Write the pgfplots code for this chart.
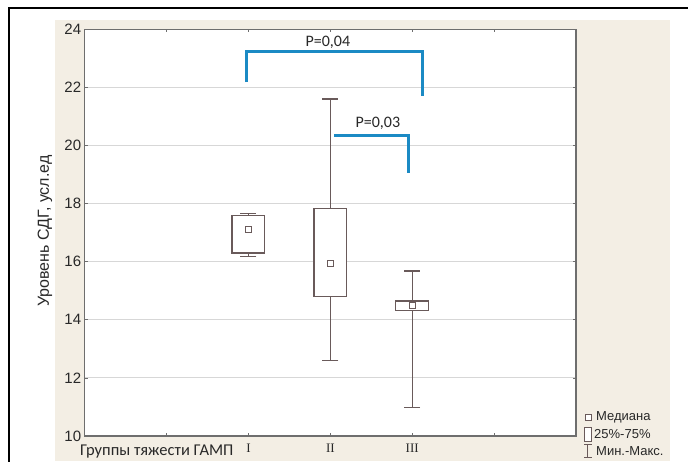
\documentclass[border=0pt]{standalone}
\usepackage{pgfplots}
\pgfplotsset{compat=1.18}
\usepackage{fontspec}
\setmainfont{Liberation Sans}
\newfontfamily\carl{Carlito}
\newfontfamily\serif{Liberation Serif}
\definecolor{bg}{RGB}{243,238,228}
\definecolor{boxc}{RGB}{105,90,90}
\definecolor{brk}{RGB}{27,138,196}
\definecolor{gridc}{RGB}{215,215,215}
\definecolor{axc}{RGB}{110,110,110}
\definecolor{txt}{RGB}{40,40,40}

\begin{document}
\begin{tikzpicture}
\useasboundingbox (0pt,0pt) rectangle (688pt,461pt);
\fill[white] (0pt,0pt) rectangle (688pt,461pt);
\fill[bg] (55pt,0pt) rectangle (670pt,441pt);
\draw[black, line width=1.5pt] (9pt,-2pt) -- (9pt,453pt) -- (690pt,453pt);
\begin{axis}[at={(84.7pt,25pt)}, anchor=south west, width=491.3pt, height=406.7pt, scale only axis,
 xmin=0, xmax=6, ymin=10, ymax=24,
 xtick={1,2,3,4,5}, xticklabels={,I,II,III,},
 ytick={10,12,...,24},
 ymajorgrids, grid style={gridc, line width=1pt},
 axis line style={axc, line width=1.2pt},
 tick style={axc, line width=0.8pt}, major tick length=3pt, tick align=inside,
 axis background/.style={fill=white},
 /pgf/number format/assume math mode=true,
 yticklabel style={font=\fontsize{15}{15}\selectfont, color=txt},
 xticklabel style={font=\serif\fontsize{13}{13}\selectfont, color=txt, yshift=-4pt},
 clip=false,
 ]
% whiskers (min..max) centred on median
\addplot[draw=none, mark=none, error bars/.cd, y dir=both, y explicit,
  error bar style={draw=boxc, line width=1.2pt},
  error mark options={draw=boxc, line width=1.2pt, rotate=90, mark size=8pt}]
  coordinates {(2,17.1) += (0,0.56) -= (0,0.91)
               (3,15.93) += (0,5.67) -= (0,3.34)
               (4,14.5) += (0,1.18) -= (0,3.51)};
% boxes (quartiles)
\addplot[boxc, fill=white, line width=1.2pt] coordinates {(1.8,16.3) (2.2,16.3) (2.2,17.6) (1.8,17.6)} -- cycle;
\addplot[boxc, fill=white, line width=1.2pt] coordinates {(2.8,14.79) (3.2,14.79) (3.2,17.82) (2.8,17.82)} -- cycle;
\addplot[boxc, fill=white, line width=1.2pt] coordinates {(3.8,14.32) (4.2,14.32) (4.2,14.65) (3.8,14.65)} -- cycle;
% medians
\addplot[only marks, mark=square*, mark options={fill=white, draw=boxc, line width=1pt}, mark size=3pt] coordinates {(2,17.1) (3,15.93) (4,14.5)};
% brackets
\addplot[brk, line width=3pt, no marks] coordinates {(1.977,22.18) (1.977,23.24) (4.125,23.24) (4.125,21.7)};
\addplot[brk, line width=3pt, no marks] coordinates {(3.05,20.33) (3.95,20.33) (3.95,19.04)};
\node[font=\carl\fontsize{16}{16}\selectfont, color=txt] at (axis cs:2.97,23.55) {P=0,04};
\node[font=\carl\fontsize{16}{16}\selectfont, color=txt] at (axis cs:3.58,20.76) {P=0,03};
\end{axis}
\node[rotate=90, font=\fontsize{16}{16}\selectfont, color=txt] at (45pt,230pt) {Уровень СДГ, усл.ед};
\node[anchor=west, font=\carl\fontsize{16.5}{16.5}\selectfont, color=txt, inner sep=0pt] at (80pt,9.5pt) {Группы тяжести ГАМП};
% legend
\draw[boxc, line width=0.8pt, fill=white] (585pt,41pt) rectangle (591pt,47pt);
\node[anchor=west, font=\fontsize{13}{13}\selectfont, color=txt, inner sep=0pt] at (596pt,44pt) {Медиана};
\draw[boxc, line width=0.8pt, fill=white] (584pt,20pt) rectangle (591pt,34pt);
\node[anchor=west, font=\fontsize{13}{13}\selectfont, color=txt, inner sep=0pt] at (594pt,27pt) {25\%-75\%};
\draw[boxc, line width=0.8pt] (587.5pt,4pt) -- (587.5pt,17pt) (584pt,4pt) -- (592pt,4pt) (584pt,17pt) -- (592pt,17pt);
\node[anchor=west, font=\fontsize{13}{13}\selectfont, color=txt, inner sep=0pt] at (596pt,10pt) {Мин.-Макс.};
\end{tikzpicture}
\end{document}
